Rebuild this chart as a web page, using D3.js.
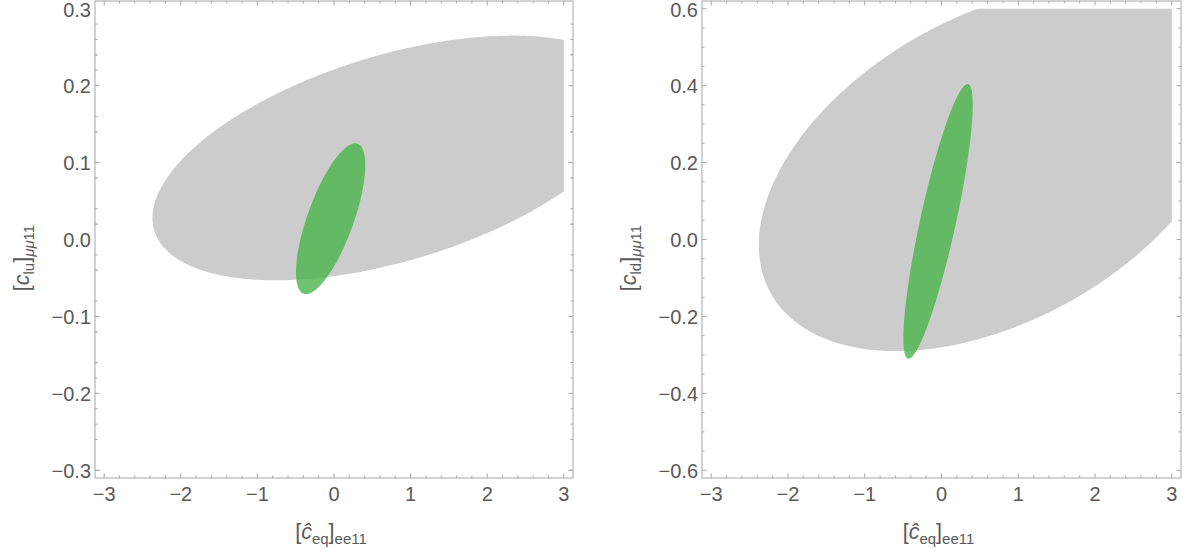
<!DOCTYPE html>
<html>
<head>
<meta charset="utf-8">
<script src="https://cdn.jsdelivr.net/npm/d3@7"></script>
<style>
  body { margin: 0; background: #fff; }
  svg { display: block; font-family: "Liberation Sans", Arial, sans-serif; }
</style>
</head>
<body>
<svg id="chart" width="1191" height="556"></svg>
<script>
// x axis (shared)
const xTicks = [-3, -2, -1, 0, 1, 2, 3];
const xMinor = 0.2;
// left panel: [c_lu] vs [c_eq]
const luTicks = [-0.3, -0.2, -0.1, 0.0, 0.1, 0.2, 0.3];
const luMinor = 0.02;
// right panel: [c_ld] vs [c_eq]
const ldTicks = [-0.6, -0.4, -0.2, 0.0, 0.2, 0.4, 0.6];
const ldMinor = 0.05;

// ellipses: [centre x, centre y, half-width x, half-height y, correlation]
const luGray = [0.78, 0.106, 3.15, 0.159, 0.49];
const luGreen = [-0.044, 0.027, 0.452, 0.098, 0.71];
const ldGray = [0.70, 0.185, 3.08, 0.475, 0.42];
const ldGreen = [-0.045, 0.047, 0.452, 0.357, 0.85];

const svg = d3.select('#chart');
const fmt = v => (v < 0 ? '\u2212' : '') + Math.abs(v).toFixed(1);

function ellipsePoints(e) {
  const [cx, cy, sx, sy, r] = e;
  const k = Math.sqrt(1 - r * r);
  return d3.range(0, 721).map(i => {
    const t = i / 720 * 2 * Math.PI;
    return [cx + sx * Math.cos(t), cy + sy * (r * Math.cos(t) + k * Math.sin(t))];
  });
}

function panel(id, left, right, yLim, yTicks, yMinor, gray, green, yName) {
  const top = 1, bottom = 478;
  const x = d3.scaleLinear().domain([-3.12, 3.12]).range([left, right]);
  const y = d3.scaleLinear().domain([-yLim * 1.0333, yLim * 1.0333]).range([bottom, top]);
  const g = svg.append('g');

  // region plot is limited to the plotted box
  svg.append('clipPath').attr('id', id)
    .append('rect')
    .attr('x', x(-3)).attr('y', y(yLim))
    .attr('width', x(3) - x(-3)).attr('height', y(-yLim) - y(yLim));

  const line = d3.line().x(d => x(d[0])).y(d => y(d[1]));
  const shapes = g.append('g').attr('clip-path', `url(#${id})`);
  shapes.append('path').attr('d', line(ellipsePoints(gray)) + 'Z')
    .attr('fill', '#cccccc');
  shapes.append('path').attr('d', line(ellipsePoints(green)) + 'Z')
    .attr('fill', 'rgb(74,180,74)').attr('fill-opacity', 0.8);

  // frame
  g.append('rect').attr('x', left).attr('y', top)
    .attr('width', right - left).attr('height', bottom - top)
    .attr('fill', 'none').attr('stroke', '#a6a6a6').attr('stroke-width', 1);

  const tk = g.append('g').attr('stroke', '#a6a6a6').attr('stroke-width', 1);
  const xs = d3.range(-3.2, 3.2001, xMinor).map(v => +v.toFixed(2));
  xs.forEach(v => {
    const major = Math.abs(v - Math.round(v)) < 1e-6;
    const len = major ? 4.5 : 2.5;
    const px = x(v);
    if (px < left || px > right) return;
    tk.append('line').attr('x1', px).attr('x2', px).attr('y1', bottom).attr('y2', bottom - len);
    tk.append('line').attr('x1', px).attr('x2', px).attr('y1', top).attr('y2', top + len);
  });
  const ys = d3.range(-yLim * 1.1, yLim * 1.1, yMinor).map(v => Math.round(v / yMinor) * yMinor);
  const majorStep = yTicks[1] - yTicks[0];
  ys.forEach(v => {
    const q = v / majorStep;
    const major = Math.abs(q - Math.round(q)) < 1e-6;
    const len = major ? 4.5 : 2.5;
    const py = y(v);
    if (py < top || py > bottom) return;
    tk.append('line').attr('y1', py).attr('y2', py).attr('x1', left).attr('x2', left + len);
    tk.append('line').attr('y1', py).attr('y2', py).attr('x1', right).attr('x2', right - len);
  });

  // tick labels
  g.append('g').selectAll('text').data(xTicks).join('text')
    .attr('x', d => x(d)).attr('y', 501)
    .attr('text-anchor', 'middle').attr('font-size', 20).attr('fill', '#595959')
    .text(d => (d < 0 ? '\u2212' : '') + Math.abs(d));
  g.append('g').selectAll('text').data(yTicks).join('text')
    .attr('x', left - 4).attr('y', d => Math.max(y(d) + 7.5, 17))
    .attr('text-anchor', 'end').attr('font-size', 20).attr('fill', '#595959')
    .text(fmt);

  // x label  [ĉ_eq]_ee11
  const xl = g.append('text').attr('x', (left + right) / 2 - 3).attr('y', 539)
    .attr('text-anchor', 'middle').attr('font-size', 21.5).attr('fill', '#595959');
  xl.append('tspan').text('[');
  xl.append('tspan').attr('font-style', 'italic').text('\u0109');
  xl.append('tspan').attr('font-size', 15).attr('dy', 5).text('eq');
  xl.append('tspan').attr('dy', -5).text(']');
  xl.append('tspan').attr('font-size', 15).attr('dy', 5).text('ee11');

  // y label  [c_lu]_μμ11
  const yl = g.append('text')
    .attr('transform', `translate(${left - 66},258) rotate(-90)`)
    .attr('text-anchor', 'middle').attr('font-size', 21.5).attr('fill', '#595959');
  yl.append('tspan').text('[');
  yl.append('tspan').attr('font-style', 'italic').text('c');
  yl.append('tspan').attr('font-size', 15).attr('dy', 5).text(yName);
  yl.append('tspan').attr('dy', -5).text(']');
  yl.append('tspan').attr('font-size', 15).attr('dy', 5).attr('font-style', 'italic').text('\u03bc\u03bc');
  yl.append('tspan').attr('font-size', 15).text('11');
}

panel('clipLu', 95, 573, 0.3, luTicks, luMinor, luGray, luGreen, 'lu');
panel('clipLd', 702, 1181, 0.6, ldTicks, ldMinor, ldGray, ldGreen, 'ld');
</script>
</body>
</html>
